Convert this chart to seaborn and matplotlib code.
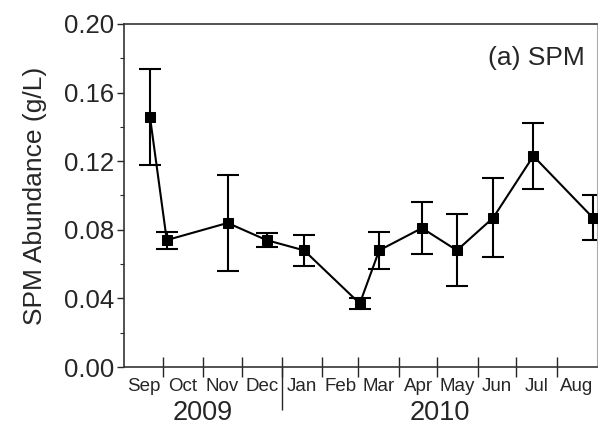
import seaborn as sns
import pandas as pd
import matplotlib.pyplot as plt
from matplotlib.ticker import MultipleLocator, FixedLocator, NullFormatter, FixedFormatter

# sampling dates and SPM abundance (g/L) with error bars
dates = ["2009-09-21", "2009-10-04", "2009-11-20", "2009-12-20", "2010-01-18", "2010-03-02",
         "2010-03-17", "2010-04-19", "2010-05-16", "2010-06-13", "2010-07-14", "2010-08-29"]
spm = [0.146, 0.074, 0.084, 0.074, 0.068, 0.037, 0.068, 0.081, 0.068, 0.087, 0.123, 0.087]
err = [0.028, 0.005, 0.028, 0.004, 0.009, 0.003, 0.011, 0.015, 0.021, 0.023, 0.019, 0.013]
months = ["Sep", "Oct", "Nov", "Dec", "Jan", "Feb", "Mar", "Apr", "May", "Jun", "Jul", "Aug"]
years = ["2009", "2010"]

start = pd.Timestamp("2009-09-01")
days = [(pd.Timestamp(d) - start).days for d in dates]
bounds = [(b - start).days for b in pd.date_range("2009-09-01", "2010-09-01", freq="MS")]
centers = [(a + b) / 2 for a, b in zip(bounds[:-1], bounds[1:])]
yr_split = bounds[4]

df = pd.DataFrame({"day": days, "spm": spm})

sns.set_style("ticks")
plt.rcParams["font.family"] = ["Liberation Sans", "DejaVu Sans"]

fig = plt.figure(figsize=(5.98, 4.28), dpi=100)
ax = fig.add_axes([0.2074, 0.1425, 0.7906, 0.8015])

ax.errorbar(days, spm, yerr=err, fmt="none", ecolor="black", elinewidth=1.5,
            capsize=8, capthick=1.5, zorder=2)
sns.lineplot(data=df, x="day", y="spm", ax=ax, color="black", linewidth=1.5,
             marker="s", markersize=7, markeredgecolor="black", zorder=3)

ax.set_xlim(0, bounds[-1])
ax.set_ylim(0, 0.20)
ax.yaxis.set_major_locator(MultipleLocator(0.04))
ax.yaxis.set_minor_locator(MultipleLocator(0.02))
ax.yaxis.set_major_formatter(plt.FuncFormatter(lambda v, p: f"{v:.2f}"))
ax.tick_params(axis="y", which="major", direction="out", length=5, width=1, labelsize=18.5, pad=2)
ax.tick_params(axis="y", which="minor", direction="out", length=3, width=0.8)
ax.set_ylabel("SPM Abundance (g/L)", fontsize=19, labelpad=12)
ax.set_xlabel("")

# month boundary ticks and month labels
ax.xaxis.set_major_locator(FixedLocator(bounds[1:-1]))
ax.xaxis.set_major_formatter(NullFormatter())
ax.xaxis.set_minor_locator(FixedLocator(centers))
ax.xaxis.set_minor_formatter(FixedFormatter(months))
ax.tick_params(axis="x", which="major", direction="inout", length=14, width=1)
ax.tick_params(axis="x", which="minor", length=0, labelsize=13.5, pad=8)

# year row
sec = ax.secondary_xaxis("bottom")
sec.spines["bottom"].set_visible(False)
sec.xaxis.set_major_locator(FixedLocator([yr_split]))
sec.xaxis.set_major_formatter(NullFormatter())
sec.xaxis.set_minor_locator(FixedLocator([(0 + yr_split) / 2, (yr_split + bounds[-1]) / 2]))
sec.xaxis.set_minor_formatter(FixedFormatter(years))
sec.tick_params(axis="x", which="major", direction="out", length=31, width=1)
sec.tick_params(axis="x", which="minor", length=0, labelsize=19.5, pad=24)

for s in ["left", "bottom", "top"]:
    ax.spines[s].set_color("#333333")
    ax.spines[s].set_linewidth(1.2)
ax.spines["right"].set_color("#aaaaaa")
ax.spines["right"].set_linewidth(0.8)

ax.text(0.975, 0.90, "(a) SPM", transform=ax.transAxes, ha="right", va="center", fontsize=19)

fig.savefig("out.png", dpi=100)
